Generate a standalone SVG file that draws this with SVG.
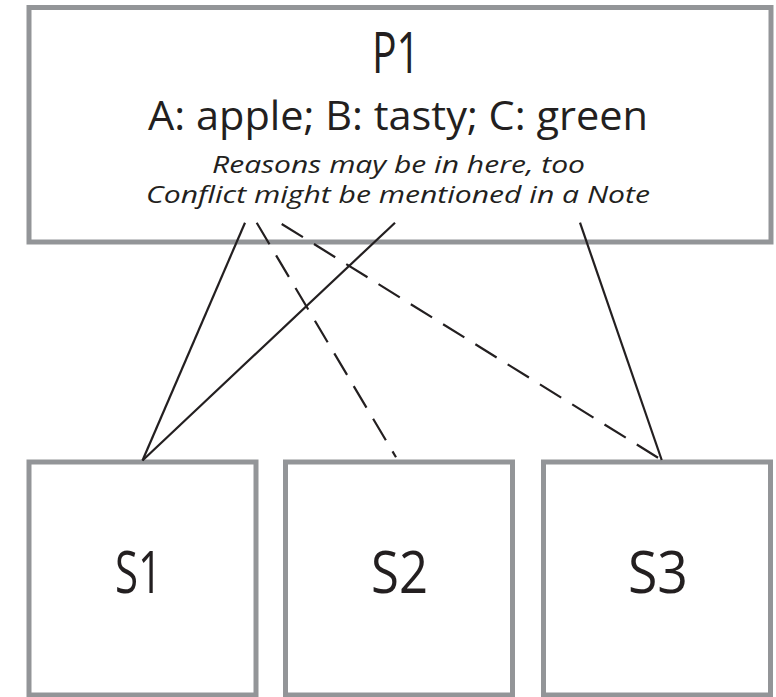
<svg xmlns="http://www.w3.org/2000/svg" width="776" height="697" viewBox="0 0 776 697">
<style>
.box{fill:#fff;stroke:#939598;stroke-width:5}
.lbl{font-family:"Open Sans","Liberation Sans",sans-serif;fill:#231f20;text-anchor:middle}
.it{font-style:italic}
.con{stroke:#231f20;stroke-width:2.2;fill:none}
.dash{stroke-dasharray:25 13}
</style>
<rect width="776" height="697" fill="#fff"/>
<g id="P1">
<rect class="box" x="29" y="7.5" width="742" height="234.5"/>
<text class="lbl" x="396" y="73" font-size="56" textLength="48" lengthAdjust="spacingAndGlyphs">P1</text>
<text class="lbl" x="398" y="130" font-size="40" textLength="500" lengthAdjust="spacingAndGlyphs">A: apple; B: tasty; C: green</text>
<text class="lbl it" x="398.5" y="173" font-size="23" textLength="373" lengthAdjust="spacingAndGlyphs">Reasons may be in here, too</text>
<text class="lbl it" x="398" y="203" font-size="23.5" textLength="504" lengthAdjust="spacingAndGlyphs">Conflict might be mentioned in a Note</text>
</g>
<g id="S1">
<rect class="box" x="29" y="462" width="227" height="233"/>
<text class="lbl" x="138.5" y="593" font-size="58" textLength="47" lengthAdjust="spacingAndGlyphs">S1</text>
</g>
<g id="S2">
<rect class="box" x="285.5" y="462" width="227" height="233"/>
<text class="lbl" x="399.5" y="593" font-size="58" textLength="57" lengthAdjust="spacingAndGlyphs">S2</text>
</g>
<g id="S3">
<rect class="box" x="543.5" y="462" width="227" height="233"/>
<text class="lbl" x="658" y="593" font-size="58" textLength="60" lengthAdjust="spacingAndGlyphs">S3</text>
</g>
<g id="connectors">
<line class="con" x1="245" y1="222.7" x2="142.5" y2="460.5"/>
<line class="con" x1="395" y1="222.7" x2="142.5" y2="460.5"/>
<line class="con dash" x1="256.7" y1="222.7" x2="396" y2="457.3"/>
<line class="con dash" x1="281.7" y1="224" x2="661.7" y2="460"/>
<line class="con" x1="580" y1="222.7" x2="661.7" y2="460"/>
</g>
</svg>
